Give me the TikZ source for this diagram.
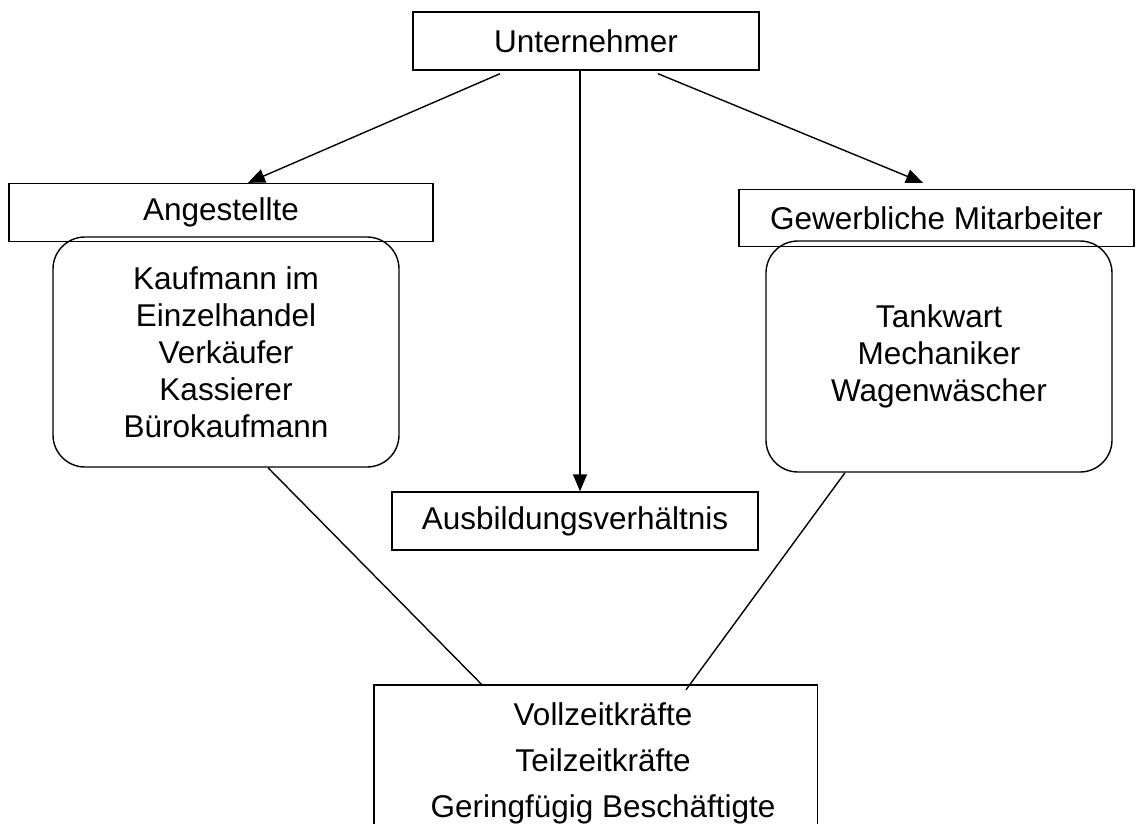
\documentclass[tikz,border=0pt]{standalone}
\usepackage{fontspec}
\setmainfont{Liberation Sans}
\usetikzlibrary{arrows.meta,calc}
\begin{document}
\begin{tikzpicture}[x=1pt,y=-1pt,
  box/.style={draw,line width=1.4pt,inner sep=0pt,align=center,font=\fontsize{31.5}{37}\selectfont},
  rbox/.style={box,rounded corners=32pt},
  arr/.style={line width=1.4pt,-{Triangle[length=17pt,width=14pt]}},
  ln/.style={line width=1.4pt}]
\useasboundingbox (0,0) rectangle (1136,823);
% nodes
\node[box,minimum width=346pt,minimum height=58pt] (U) at (586,41) {Unternehmer};
\node[box,minimum width=424pt,minimum height=58pt] (ang) at (221,212.5) {Angestellte};
\node[rbox,minimum width=346pt,minimum height=230pt] (angl) at (226,352)
  {Kaufmann im\\Einzelhandel\\Verkäufer\\Kassierer\\Bürokaufmann};
\node[box,minimum width=395pt,minimum height=57pt] (gew) at (936.5,218) {Gewerbliche Mitarbeiter};
\node[rbox,minimum width=346pt,minimum height=231pt] (gewl) at (939,356.5)
  {Tankwart\\Mechaniker\\Wagenwäscher};
\node[box,minimum width=366pt,minimum height=58pt] (A) at (575,521) {Ausbildungsverhältnis};
\node[inner sep=0pt,minimum width=443pt,minimum height=160pt] (B) at (595.5,765) {};
\node[inner sep=0pt,align=center,font=\fontsize{31.5}{46}\selectfont] (Bt) at (603,763)
  {Vollzeitkräfte\\Teilzeitkräfte\\Geringfügig Beschäftigte};
\draw[ln] (B.south west) -- (B.north west) -- (B.north east) -- (B.south east);
% connectors
\coordinate (ul) at ($(U.south)+(-86,3)$);
\coordinate (ur) at ($(U.south)+(72,3)$);
\coordinate (um) at ($(U.south)+(-6,0)$);
\draw[arr] (ul) -- ($(ang.north)+(27,0)$);
\draw[arr] (ur) -- ($(gew.north)+(-13.5,-6)$);
\draw[arr] (um) -- (um |- A.north);
\draw[ln] ($(angl.south)+(42,0)$) -- ($(B.north)+(-113.5,0)$);
\draw[ln] ($(gewl.south)+(-94,0)$) -- ($(B.north)+(90.5,5)$);
\end{tikzpicture}
\end{document}
